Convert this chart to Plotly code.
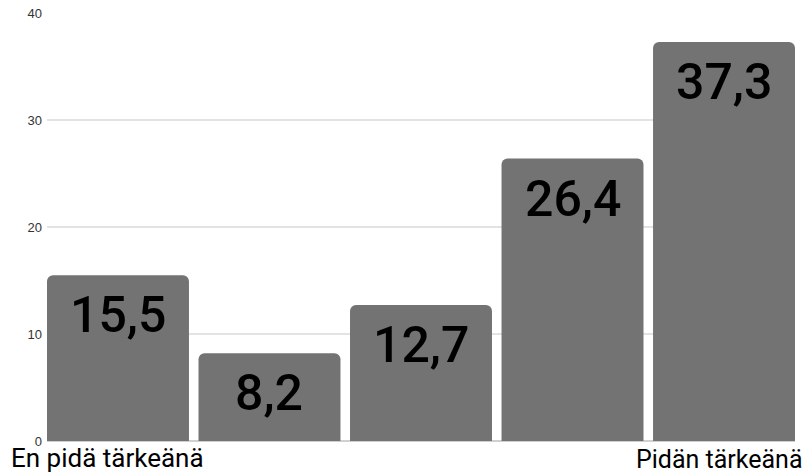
import plotly.graph_objects as go

# Survey answers on a 1–5 scale, share of respondents (%)
categories = [1, 2, 3, 4, 5]
values = [15.5, 8.2, 12.7, 26.4, 37.3]
value_labels = ["15,5", "8,2", "12,7", "26,4", "37,3"]
y_ticks = [0, 10, 20, 30, 40]
end_labels = ["En pidä tärkeänä", "Pidän tärkeänä"]

bar_color = "#737373"

fig = go.Figure(
    go.Bar(
        x=categories,
        y=values,
        marker=dict(color=bar_color, line=dict(width=0)),
        width=0.937,
        hoverinfo="skip",
    )
)

# Value labels sit inside each bar, just below its top
for cx, v, lbl in zip(categories, values, value_labels):
    fig.add_annotation(
        x=cx, y=v, xref="x", yref="y",
        text=lbl, showarrow=False,
        yanchor="top", yshift=-9,
        font=dict(family="Roboto", size=50, color="#000000", weight=500),
    )

# Scale end descriptions below the first and last bars
fig.add_annotation(
    x=0, y=0, xref="paper", yref="paper", xshift=-37,
    text=end_labels[0], showarrow=False,
    xanchor="left", yanchor="top", yshift=-1, borderpad=0,
    font=dict(family="Roboto", size=26, color="#000000"),
)
fig.add_annotation(
    x=1, y=0, xref="paper", yref="paper", xshift=9,
    text=end_labels[1], showarrow=False,
    xanchor="right", yanchor="top", yshift=-3, borderpad=0,
    font=dict(family="Roboto", size=25, color="#000000"),
)

fig.update_layout(
    width=808, height=473,
    margin=dict(l=47, r=13, t=13, b=32),
    paper_bgcolor="white", plot_bgcolor="white",
    showlegend=False,
    barcornerradius=6,
    xaxis=dict(
        range=[0.5315, 5.4685],
        showticklabels=False, showgrid=False, zeroline=False,
        showline=False, fixedrange=True, automargin=False,
    ),
    yaxis=dict(
        range=[0, 40], tickvals=y_ticks,
        showgrid=True, gridcolor="#e3e3e3", gridwidth=1.5,
        zeroline=True, zerolinecolor="#d0d0d0", zerolinewidth=1.5,
        tickfont=dict(family="Liberation Sans", size=13, color="#333333"),
        ticks="", ticklabelstandoff=4,
        fixedrange=True, automargin=False,
    ),
)

fig.write_html("out.html")
